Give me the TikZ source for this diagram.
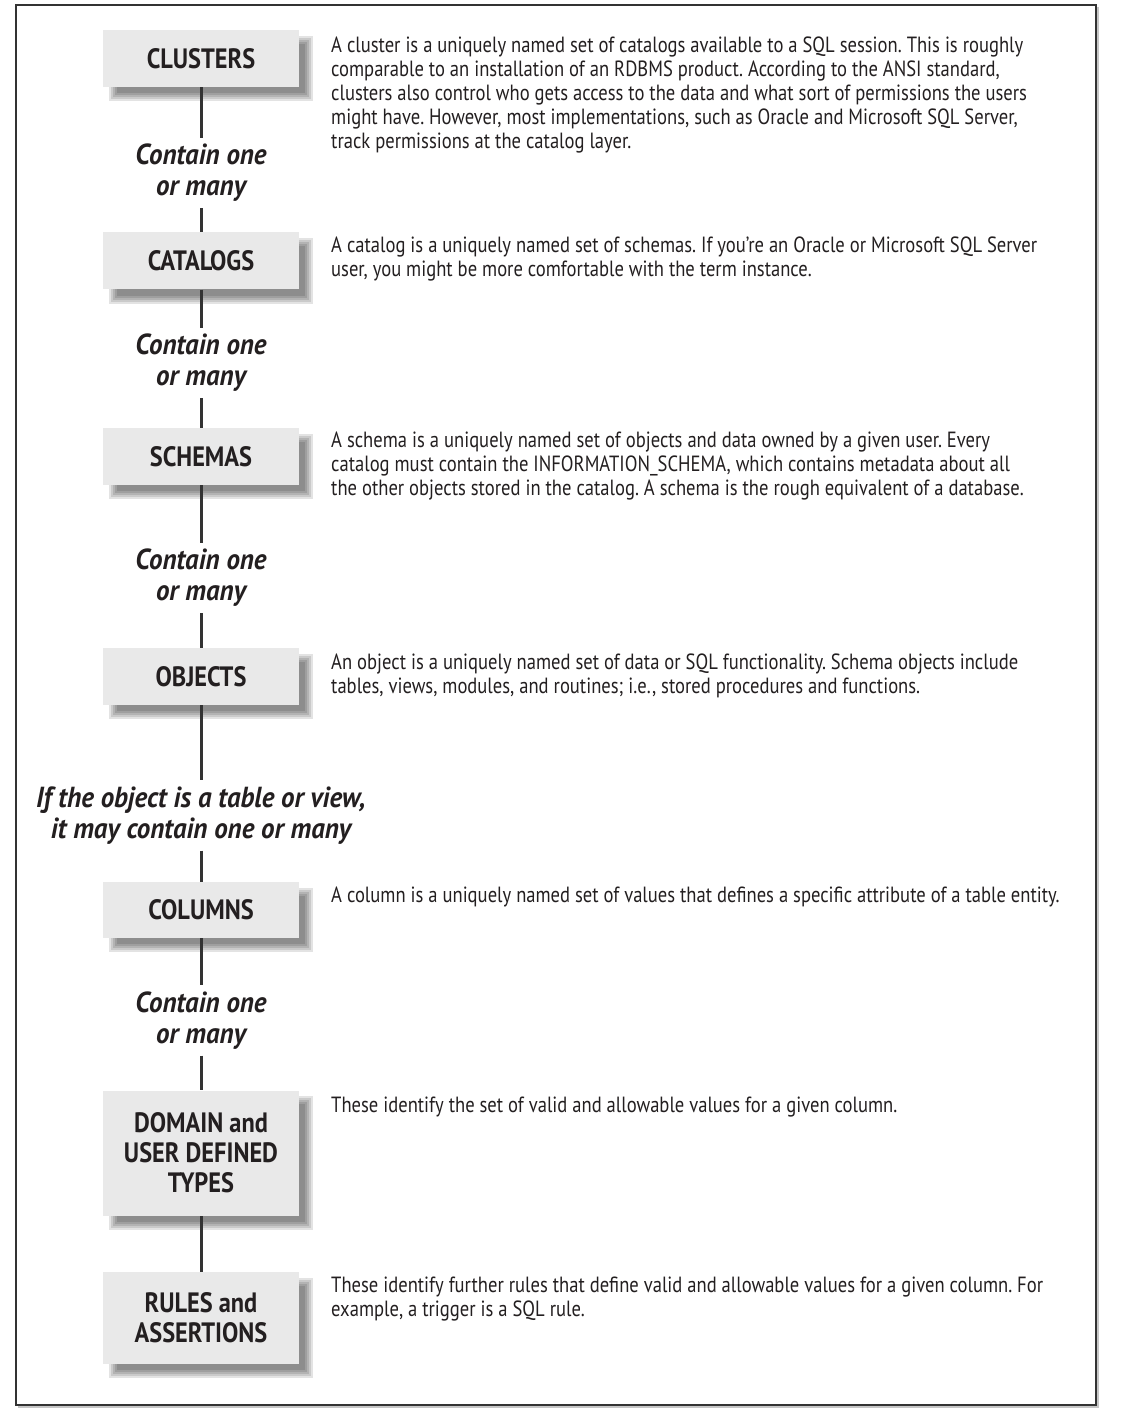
\documentclass[tikz,border=0pt]{standalone}
\usepackage{fontspec}
\setmainfont{PT Sans}
\newfontfamily\descfont{PT Sans}[FakeStretch=0.845]
\newfontfamily\headfont{PT Sans}[FakeStretch=0.87]
\newfontfamily\relfont{PT Sans}[FakeStretch=0.93]
\usetikzlibrary{calc,backgrounds}
\definecolor{ink}{HTML}{231F20}
\definecolor{boxfill}{HTML}{E9E9E9}
\definecolor{rulec}{HTML}{333333}
\tikzset{
 entity/.style={fill=boxfill, minimum width=196pt, inner sep=0pt, align=center, text=ink, font=\headfont\bfseries\fontsize{28}{30}\selectfont},
 rel/.style={align=center, text=ink, inner xsep=0pt, inner ysep=6pt, font=\relfont\bfseries\itshape\fontsize{29}{31}\selectfont},
 desc/.style={anchor=north west, align=left, inner sep=0pt, text=ink, font=\descfont\frenchspacing\fontsize{22}{24}\selectfont},
 link/.style={draw=rulec, line width=3pt},
}
\begin{document}
\begin{tikzpicture}[x=1pt,y=-1pt]
\useasboundingbox (0,0) rectangle (1138,1420);

% boxes
\node[entity, minimum height=57pt] (clusters) at (201,58.5) {CLUSTERS};
\node[entity, minimum height=57pt] (catalogs) at (201,261) {CATALOGS};
\node[entity, minimum height=57pt] (schemas) at (201,456.5) {SCHEMAS};
\node[entity, minimum height=57pt] (objects) at (201,676.5) {OBJECTS};
\node[entity, minimum height=56pt] (columns) at (201,910) {COLUMNS};
\node[entity, minimum height=125pt] (domain) at (201,1153) {DOMAIN and\\USER DEFINED\\TYPES};
\node[entity, minimum height=92pt] (rules) at (201,1318) {RULES and\\ASSERTIONS};

% relation labels
\node[rel] (r1) at (201,173) {Contain one\\or many};
\node[rel] (r2) at (201,363) {Contain one\\or many};
\node[rel] (r3) at (201,578) {Contain one\\or many};
\node[rel] (r4) at (201,815.5) {If the object is a table or view,\\it may contain one or many};
\node[rel] (r5) at (201,1020.5) {Contain one\\or many};

% background, frame, shadows and connectors
\begin{scope}[on background layer]
\fill[white] (0,0) rectangle (1138,1420);
\draw[gray!45, line width=2pt] (1098,7) -- (1098,1407) -- (18,1407);
\draw[rulec, line width=2pt] (16,5) rectangle (1096,1405);
\foreach \n in {clusters,catalogs,schemas,objects,columns,domain,rules}{
  \foreach \e in {-4,-2,0,2,4}{
    \fill[black, opacity=0.11] ($(\n.north west)+(10-\e,10-\e)$) rectangle ($(\n.south east)+(10+\e,10+\e)$);
  }
}
\draw[link] (clusters.south) -- (r1.north);
\draw[link] (r1.south) -- (catalogs.north);
\draw[link] (catalogs.south) -- (r2.north);
\draw[link] (r2.south) -- (schemas.north);
\draw[link] (schemas.south) -- (r3.north);
\draw[link] (r3.south) -- (objects.north);
\draw[link] (objects.south) -- (r4.north);
\draw[link] (r4.south) -- (columns.north);
\draw[link] (columns.south) -- (r5.north);
\draw[link] (r5.south) -- (domain.north);
\draw[link] (domain.south) -- (rules.north);
\end{scope}

% descriptions
\node[desc] (d1) at (331,37) {A cluster is a uniquely named set of catalogs available to a SQL session. This is roughly\\comparable to an installation of an RDBMS product. According to the ANSI standard,\\clusters also control who gets access to the data and what sort of permissions the users\\might have. However, most implementations, such as Oracle and Microsoft SQL Server,\\track permissions at the catalog layer.};
\node[desc] (d2) at (331,237) {A catalog is a uniquely named set of schemas. If you’re an Oracle or Microsoft SQL Server\\user, you might be more comfortable with the term instance.};
\node[desc] (d3) at (331,432) {A schema is a uniquely named set of objects and data owned by a given user. Every\\catalog must contain the INFORMATION\_SCHEMA, which contains metadata about all\\the other objects stored in the catalog. A schema is the rough equivalent of a database.};
\node[desc] (d4) at (331,654) {An object is a uniquely named set of data or SQL functionality. Schema objects include\\tables, views, modules, and routines; i.e., stored procedures and functions.};
\node[desc] (d5) at (331,887) {A column is a uniquely named set of values that defines a specific attribute of a table entity.};
\node[desc] (d6) at (331,1097) {These identify the set of valid and allowable values for a given column.};
\node[desc] (d7) at (331,1277) {These identify further rules that define valid and allowable values for a given column. For\\example, a trigger is a SQL rule.};
\end{tikzpicture}
\end{document}
